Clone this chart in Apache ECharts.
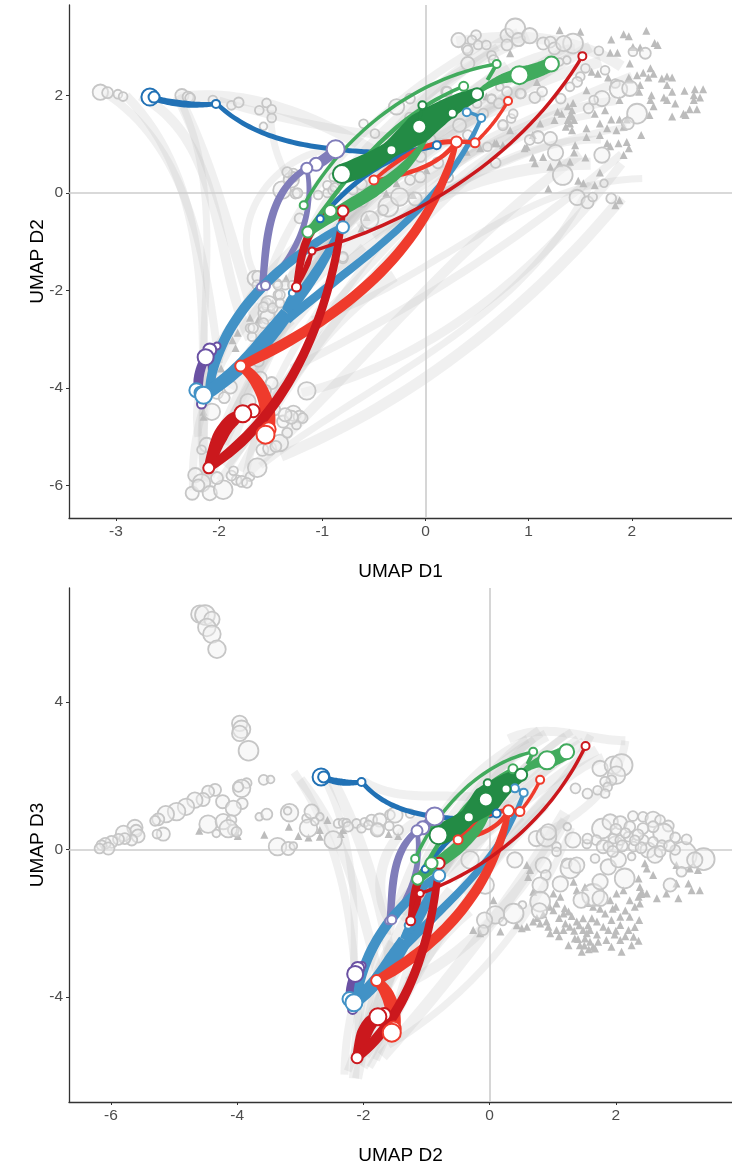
<!DOCTYPE html>
<html><head><meta charset="utf-8">
<style>html,body{margin:0;padding:0;background:#fff}#c{width:732px;height:1165px}</style>
<script src="https://cdn.jsdelivr.net/npm/echarts@6/dist/echarts.min.js"></script>
</head><body><div id="c"></div>
<script>
// tick labels
const ticksD1 = [-3,-2,-1,0,1,2];
const ticksD2top = [-6,-4,-2,0,2];
const ticksD2bottom = [-6,-4,-2,0,2];
const ticksD3 = [-4,0,4];

// grey cells, upper panel [D1, D2, size]
const cellsD1D2 = [
[-3.15,2.07,14],[-3.08,2.06,10],[-2.98,2.03,8],[-2.93,1.98,8],[-2.36,2.0,12],[-2.3,1.97,10],[-2.28,1.95,9],[-2.06,1.91,8],[-1.88,1.8,8],[-1.81,1.86,9],[-1.61,1.7,8],[-1.54,1.85,8],[-1.49,1.72,8],[-1.49,1.54,8],[-1.57,1.37,7],
[-2.26,-6.16,12],[-2.23,-5.79,13],[-2.17,-5.95,16],[-2.09,-6.16,13],[-1.96,-6.09,17],[-2.02,-5.85,11],[-2.12,-5.17,13],[-2.17,-5.27,8],[-1.83,-5.89,9],[-1.78,-5.92,10],[-1.70,-5.82,8],[-1.63,-5.64,17],[-1.58,-5.27,11],[-1.51,-5.24,12],[-1.41,-5.13,15],[-1.34,-4.92,9],[-1.38,-4.69,11],[-1.28,-4.52,14],[-1.22,-4.59,11],[-1.25,-4.76,8],[-1.19,-4.62,9],[-1.15,-4.06,16],[-1.46,-4.45,10],[-1.72,-4.28,14],[-2.07,-4.49,15],[-1.6,-3.8,12],[-1.49,-3.9,11],[-1.89,-3.98,12],[-1.54,-2.46,15],[-1.44,-1.85,8],[-1.43,-2.09,8],[-1.54,-2.26,9],[-1.7,-2.77,8],[-1.68,-2.95,8],
[-2.2,-6.0,11],[-1.88,-5.8,9],[-1.73,-5.95,9],[-1.86,-5.7,8],[-1.45,-5.2,10],[-1.3,-4.6,12],[-1.36,-4.55,12],[-2.02,-4.1,11],[-1.95,-4.2,10],[-1.55,-4.05,10],[-1.62,-3.45,10],
[0.32,3.14,13],[0.40,2.97,9],[0.49,3.24,9],[0.45,3.14,8],[0.51,3.04,8],[0.59,3.04,8],[0.41,2.93,9],[0.79,3.24,12],[0.87,3.38,18],[0.79,3.04,10],[0.90,3.15,12],[1.01,3.23,14],[1.14,3.07,11],[1.21,3.1,10],[1.25,2.97,11],[1.43,3.07,18],[1.34,3.07,14],[0.64,2.83,8],[0.41,2.66,12],[0.66,2.73,9],[1.68,2.92,8],[1.74,2.52,8],[2.01,2.9,8],[2.13,2.87,10],[1.84,2.25,8],[1.55,2.56,8],[1.5,2.39,8],[1.87,2.13,16],[1.98,2.15,14],[1.71,1.94,14],[1.63,1.91,8],[1.58,1.74,9],[2.05,1.63,18],[1.96,1.43,11],[1.71,.78,14],[1.26,.83,14],[1.33,.37,18],[1.47,-.09,14],[1.57,-.19,11],[1.62,-.08,8],[1.8,-.11,9],[1.73,.2,7],[1.21,1.12,12],[1.09,1.15,11],[1.01,1.09,9],[1.06,1.96,10],[1.13,2.08,9],[.93,2.04,8],[.83,1.53,8],[.75,1.41,8],[.64,1.94,8],[.72,2.18,7],[1.47,2.28,9],[1.4,2.18,8],[1.31,1.94,9],[1.37,2.73,7],[1.3,2.69,7],
[-.49,1.22,8],[-1.39,.06,16],[-1.3,.27,14],[-1.26,-.01,9],[-1.28,.4,9],[-1.04,-.04,8],[-.86,.13,8],[-.89,.33,8],[-.36,-.28,18],[-.25,-.08,16],[-.54,-.55,16],[-.41,-.35,9],[-.15,.27,9],[-.7,.06,8],[-.28,1.77,14],[.2,2.08,9],[.11,1.84,8],[.5,1.84,8],[.33,1.39,12],[.64,1.93,8],[.92,2.04,9],[.85,1.63,8],[.75,1.39,9],[.41,1.19,9],[-1.65,-1.75,14],[-1.36,-1.89,8],[-1.41,-2.09,9],[-1.52,-2.27,14],[-.8,-1.34,9],[-1.22,-.52,9],[-.05,.75,10],[.22,.32,9],[-.1,-.12,12],[-.62,.18,10],[.05,1.1,9],[-.48,.55,8],[-.62,-.15,12],[.12,.62,10],[.6,.95,8],[.68,.62,9],[-.15,1.55,9],[-.6,1.42,8],
[-.15,1.94,9],[.21,2.08,9],[.37,1.84,9],[.56,1.63,9],[.71,1.84,9],[.79,2.08,9],[-.63,.54,9],[-.05,.33,10],
[-1.53,-2.54,13],[-1.57,-2.34,9],[-1.43,-1.89,8],[-1.29,-1.89,8],[-1.48,-2.36,9],[-1.41,-2.26,8],[-1.62,-1.72,11],[-1.63,-1.89,9],[-1.67,-2.77,9],[-1.57,-2.67,9],[-1.28,.33,9],[-1.34,.43,9],[-1.24,0,9],[-.95,0,8],[-.95,.16,8],[-.9,.06,8],[-.88,.12,8],[-.8,-1.31,9]
];
const markersD1D2 = [
[1.30,3.34],[1.50,3.31],[1.80,3.15],[1.92,3.26],[1.97,3.22],[2.14,3.33],[2.22,3.08],[2.25,3.04],[1.79,2.88],[1.86,2.88],[2.01,3.0],[2.08,2.99],[1.98,2.66],[2.18,2.56],[2.11,2.47],[2.05,2.42],[2.21,2.45],[2.29,2.35],[2.34,2.39],[2.39,2.37],[2.16,2.37],[1.97,2.37],[1.67,2.45],[1.61,2.49],[1.77,2.37],[2.34,2.22],[2.39,2.08],[2.51,2.10],[2.61,2.13],[2.69,2.13],[2.6,2.01],[2.66,1.96],[2.6,1.91],[2.19,2.01],[2.18,1.91],[2.31,1.96],[2.42,1.84],[2.21,1.78],[2.34,1.91],[2.56,1.72],[2.63,1.72],[2.5,1.63],[2.52,1.6],[2.39,1.57],[2.17,1.6],[1.88,1.91],[2.07,2.08],[2.08,2.22],[1.98,2.33],[1.56,2.11],[1.64,1.63],[1.74,1.7],[1.88,1.51],[1.8,1.51],[1.95,1.51],[1.69,1.43],[1.76,1.33],[1.92,1.36],[1.85,1.29],[2.09,1.19],[1.56,1.15],[1.69,1.19],[1.76,1.02],[1.79,.96],[1.95,1.05],[1.87,1.02],[1.97,.92],[1.92,.78],[1.45,.98],[1.44,.83],[1.55,.73],[1.14,.74],[1.04,.73],[1.06,.61],[1.3,.61],[1.4,.64],[1.21,.54],[1.69,.42],[1.48,.25],[1.53,.2],[1.64,.16],[1.19,.09],[1.84,-.25],[1.88,-.15],
[1.40,1.57],[1.42,1.70],[1.38,1.5],[1.4,1.43],[1.56,1.33],[1.42,1.29],[1.32,1.63],[1.28,1.67],[1.25,1.5],[1.11,1.43],[.98,.95],[.82,1.29],[.67,1.02],[1.43,1.85],[1.38,1.78],[1.41,1.62],[1.44,1.5],[1.36,1.36],
[.82,2.87],[1.08,2.28],[.59,1.98],[.96,.92],[1.04,1.19],[.69,1.02],[.53,.92],[.27,1.02],[.42,1.02],[.75,.98],[.4,.85],[.01,.47],[-.12,-.04],[-.28,.2],[-.38,-.01],[-.62,-.73],[-.57,-.49],[-1.35,-1.75],
[-1.7,-2.56],[-1.82,-2.87],[-1.87,-3.02],[-1.84,-3.18],[-2.15,-4.49],[-2.15,-4.59],[-1.48,-2.26],[-1.55,-2.2],[-1.62,-2.6],[-1.98,-3.6]
];

// grey cells, lower panel [D2, D3, size]
const cellsD2D3 = [
[-4.59,6.38,16],[-4.51,6.36,18],[-4.4,6.24,14],[-4.48,6.02,16],[-4.4,5.84,16],[-4.32,5.43,16],[-3.96,3.42,14],[-3.93,3.26,16],[-3.96,3.15,14],[-3.82,2.68,18],[-3.85,1.8,9],[-3.93,1.66,16],[-3.98,1.7,9],[-3.58,1.89,9],[-3.47,1.9,7],
[-4.35,1.62,11],[-4.46,1.57,11],[-4.54,1.36,12],[-4.67,1.34,14],[-4.81,1.16,15],[-4.96,1.03,16],[-5.13,.96,15],[-5.25,.82,11],[-5.3,.78,9],[-5.17,.42,12],[-5.27,.42,8],[-5.62,.6,14],[-5.6,.51,11],[-5.57,.37,12],[-5.67,.26,10],[-5.8,.44,14],[-5.78,.3,10],[-5.88,.28,10],[-5.99,.21,11],[-6.09,.17,10],[-6.15,.12,9],[-6.04,.03,11],[-6.18,.03,9],
[-4.23,1.3,12],[-3.92,1.25,10],[-4.06,1.12,14],[-4.46,.69,16],[-4.22,.76,14],[-4.09,.8,9],[-4.06,.53,10],[-4.14,.57,16],[-4.33,.44,7],[-4.01,.48,9],[-3.65,.89,7],[-3.53,.96,10],[-3.17,1.0,16],[-3.2,1.05,7],[-2.9,.85,8],[-2.82,1.03,13],[-2.69,.89,7],[-2.87,.58,16],[-2.77,.76,7],[-2.48,.26,16],[-3.36,.08,16],[-3.19,.03,12],[-3.11,.1,7],
[-2.4,.71,8],[-2.32,.73,8],[-2.27,.73,7],[-2.11,.71,8],[-2.03,.58,8],[-1.98,.74,8],[-1.87,.8,10],[-1.92,.67,8],[-1.74,.8,12],[-1.77,.55,11],[-1.58,.94,9],[-1.5,.94,14],[-1.59,.64,8],[-1.45,.53,9],[-1.26,.98,8],[-2.24,.62,9],[-1.78,.53,12],
[-.31,-.28,16],[-.07,-.96,16],[.40,-.28,14],[.85,-.42,14],[.89,-.69,9],[.8,-.96,14],[1.12,-.93,14],[.8,-1.41,18],[.79,-1.66,14],[.52,-1.5,7],[.38,-1.73,18],[.09,-1.77,16],[-.08,-1.91,14],[-.1,-2.18,9],[.21,-1.95,7],
[.74,.3,14],[.9,.35,18],[.93,.48,14],[1.23,.62,7],[1.32,.26,14],[1.06,.08,8],[1.06,-.06,8],[1.22,-.37,9],[1.28,-.51,18],[1.38,-.42,14],[1.67,-.24,8],[1.88,-.47,14],[2.04,-.27,14],[1.64,-1.23,20],[2.14,-.78,18],[1.75,-.87,14],[1.75,-1.32,14],[1.45,-1.37,14],[1.54,.15,8],[1.78,.57,18],[1.91,.75,14],[2.07,.73,12],[2.27,.91,9],[2.43,.89,9],[2.59,.82,14],[2.7,.8,9],[2.83,.64,10],[2.75,.44,18],[2.94,.33,9],[3.07,-.15,24],[3.39,-.26,20],[3.25,-.28,14],[3.04,-.6,9],[2.86,-.96,12],[3.12,.28,9],[1.69,.26,9],[1.8,.08,12],[1.99,.15,14],[1.96,.3,9],[2.07,.26,9],[2.2,.35,9],[2.28,.08,9],[2.51,-.01,14],[2.62,-.15,14],[2.44,.26,9],[2.59,.21,9],[2.73,.12,9],[2.94,-.01,9],[2.25,-.19,7],[1.88,.08,9],[2.59,.62,10],[2.43,.57,10],[2.22,.62,10],[2.0,.55,10],[2.35,.4,10],[2.85,.1,10],[1.95,-.05,10],[2.1,.1,10],[2.4,.05,10],[2.7,-.05,10],[2.3,.25,9],[2.15,.45,9],[1.55,.3,9],
[1.75,2.2,14],[1.96,2.29,16],[2.09,2.29,20],[2.01,2.02,16],[1.93,1.88,9],[1.83,1.84,9],[1.87,1.7,8],[1.71,1.61,8],[1.83,1.52,8],[1.55,1.52,9],[1.36,1.66,9]
];
const markersD2D3 = [
[-4.6,.51],[-3.99,.37],[-3.57,.4],[-3.18,.62],[-2.57,.8],[-2.69,.53],[-3.03,.37],[-2.87,.33],[-2.69,.35],[-2.32,.53],[-2.36,.42],[-1.6,.42],[-1.45,.37],
[-.26,-2.18],[-.15,-2.27],[.17,-2.22],[.06,-1.37],[.59,-.42],[.64,-.55],[.61,-.74],[1.33,-.87],[1.38,-1.1],[1.51,-1.01],[.69,-1.14],[1.12,-1.28],[1.01,-1.19],
[.43,-2.05],[.51,-2.13],[.59,-2.09],[.69,-1.95],[.8,-2.0],[.93,-2.09],[1.06,-2.18],[.96,-2.27],[1.17,-2.18],[1.27,-2.09],[1.17,-1.73],[1.01,-1.64],[1.06,-1.46],[1.19,-1.59],[1.25,-1.68],[1.38,-1.95],[1.48,-1.86],[1.62,-1.86],[1.59,-2.18],[1.7,-1.95],[1.83,-1.73],[2.07,-1.82],[1.93,-1.91],[2.22,-1.82],[2.37,-1.91],[2.07,-2.04],[2.2,-2.18],[1.88,-2.18],[1.8,-2.09],[2.28,-2.36],[2.36,-2.47],[2.07,-2.45],[1.93,-2.63],[2.09,-2.77],[2.25,-2.59],[1.64,-2.63],[1.48,-2.18],[1.35,-2.41],[1.25,-2.59],[1.43,-2.59],[1.46,-2.77],[1.54,-2.27],[1.59,-2.5],[1.51,-2.41],[1.67,-2.68],[1.64,-1.55],
[2.38,-1.01],[2.41,-1.14],[2.49,-1.19],[2.36,-1.28],[2.38,-1.46],[2.65,-1.32],[2.22,-1.37],[2.12,-1.1],[2.01,-1.19],[1.91,-1.37],[2.36,-.78],[2.46,-.37],[2.49,-.51],[2.59,-.69],[2.96,-.92],[3.15,-.92],[3.2,-1.1],[3.33,-1.1],[2.99,-1.32],[3.3,-.55],[3.17,-.51],[2.96,-.42],[2.8,-1.19],
[.85,-1.75],[.95,-1.55],[1.1,-1.85],[1.3,-1.8],[1.55,-1.45],[2.0,-1.55],[2.3,-1.55],[2.15,-1.65],[2.4,-1.2],[1.7,-2.3],[1.85,-2.45],[2.0,-2.2],
[1.1,-2.35],[1.2,-2.0],[1.34,-2.2],[1.42,-2.05],[1.56,-2.05],[1.75,-1.6],[1.95,-1.6],[1.5,-2.6],[1.57,-2.7],[1.4,-2.42],[1.72,-2.5],[2.15,-2.35],[2.3,-2.1],[1.98,-2.3],[.75,-1.85],[.9,-1.95]
];

// faint trajectories, upper panel
const fadedD1D2 = [
[[-3.1,2.05],[-2.6,1.0],[-2.2,-1],[-2.0,-3.5]],
[[-2.76,2],[-2.38,1.3],[-1.95,-1.2],[-1.7,-3]],
[[-2.4,2],[-2.2,.8],[-2.12,-1.5],[-2.15,-4.2]],
[[-2.4,2],[-2.1,.5],[-1.8,-1.5],[-1.55,-3.2]],
[[-2.9,2],[-2.5,.8],[-2.2,-1.5],[-2.15,-5.8]],
[[-2.0,1.9],[-1.5,1.6],[-.8,1.3],[.4,1.0]],
[[-2.4,1.95],[-1.6,1.85],[-.8,1.2],[-.3,.6]],
[[-1.5,1.7],[-1.45,.9],[-1.3,.2]],
[[-1.6,-2.3],[-1.1,0],[-.3,1.8],[.6,3.1]],
[[-1.3,-1.8],[-.8,.3],[0,2],[1,3.2]],
[[-1.4,-1.9],[-.6,-.2],[.3,1.5],[1.4,3.0]],
[[-1.0,-.9],[-.3,.6],[.6,1.8],[1.7,2.7]],
[[-1.2,-1.4],[-.4,-.1],[.7,1.2],[2.0,2.4]],
[[-1.5,-3],[-.9,-1],[0,.8],[1.2,2.5]],
[[-2.1,-5.8],[-1.6,-3.5],[-.9,-1],[.1,1.4]],
[[-2,-5.9],[-1.4,-4],[-.6,-1.5],[.5,.9]],
[[-1.8,-5.7],[-1.2,-3.6],[-.3,-1.2],[.9,1.2]],
[[-1.7,-5.7],[-.9,-4],[.1,-1.8],[1.5,.8]],
[[-1.6,-5.6],[-.7,-4.3],[.6,-2.4],[1.6,.2]],
[[-1.4,-5.4],[-.3,-4.2],[.9,-2.3],[1.9,-.1]],
[[-1.2,-4.1],[-.2,-3.3],[1,-1.5],[1.9,.6]],
[[-1.3,-3.6],[-.4,-2.6],[.8,-1],[1.9,.8]],
[[-1.9,-4],[-1.2,-2],[-.2,-.4],[1.6,.6]],
[[-1.1,-2.6],[0,-1.5],[1,-.3],[2.1,.3]],
[[-2.2,-5],[-2.1,-3.5],[-1.6,-2],[-1.1,-.8]],
[[-2.1,-6],[-2.1,-4],[-1.8,-2.5],[-1.2,-1]],
[[-1.55,-2],[-1.7,-.5],[-1.3,.6],[-.9,.9]],
[[.3,3.1],[.8,3.2],[1.5,3],[1.9,2.6]],
[[-.4,1],[.3,2.5],[.9,3.3]],
[[-.5,.6],[.2,2.2],[.7,3]],
[[-1.9,-5.2],[-1.5,-3.2],[-.8,-.8],[.2,1.6],[.8,2.6]],
[[-1.2,-2.9],[-.5,-1.4],[.5,.6],[1.6,1.6]],
[[-.9,-1.6],[-.1,-.4],[.8,.7],[1.7,1.1]],
[[-1.35,-2.6],[-.85,-.7],[.1,1.1],[1.15,2.0]],
[[-1.05,-1.5],[-.45,-.4],[.35,.7],[1.25,1.5]],
[[-.8,-.2],[-.15,1.05],[.65,2.35],[1.45,2.95]],
[[-.65,-.7],[0,.2],[.9,1.3],[1.85,1.9]],
[[-2.05,-5.4],[-1.75,-4.1],[-1.25,-2.6],[-.6,-1.1]],
[[-1.95,-5.6],[-1.55,-4.5],[-1.0,-3],[-.3,-1.7]],
[[-.5,-.9],[.2,.05],[1.1,.9],[1.95,1.35]],
[[-2.25,-6.1],[-2.2,-4.8],[-2.0,-3.6],[-1.6,-2.3]],
[[-2.15,-5.9],[-1.95,-4.8],[-1.7,-3.7],[-1.3,-2.6]],
[[-1.75,-5.9],[-1.6,-4.7],[-1.35,-3.5],[-1.0,-2.3]],
[[-.3,.3],[.4,1.4],[1.1,2.4],[1.6,3.0]]
];
// faint trajectories, lower panel
const fadedD2D3 = [
[[-3.1,2.1],[-2.6,.5],[-2.3,-1.2],[-2.1,-4],[-2.05,-5.7]],
[[-3.0,1.9],[-2.4,.2],[-2.0,-1.8],[-1.75,-3.5]],
[[-2.6,1.85],[-2.3,.4],[-2.15,-1.6],[-2.2,-4.4]],
[[-2.5,1.9],[-2.1,.4],[-1.75,-1.5],[-1.55,-3.2]],
[[-2.0,1.85],[-1.4,1.5],[-.7,1.45],[.3,1.2]],
[[-1.6,-2.3],[-1.1,0],[-.3,1.9],[.6,3.0]],
[[-1.3,-1.8],[-.8,.3],[0,2],[.9,3.1]],
[[-1.4,-1.9],[-.6,-.2],[.3,1.7],[1.2,3.1]],
[[-1.0,-.9],[-.3,.6],[.6,2],[1.4,3.0]],
[[-1.2,-1.4],[-.4,-.1],[.7,1.5],[1.7,2.7]],
[[-1.5,-3],[-.9,-1],[0,.8],[1.2,2.5]],
[[-2.1,-5.8],[-1.6,-3.5],[-.9,-1],[.1,1.4]],
[[-2,-5.9],[-1.4,-4],[-.6,-1.5],[.5,.9]],
[[-1.8,-5.7],[-1.2,-3.6],[-.3,-1.2],[.9,1.2]],
[[-1.7,-5.6],[-.9,-4],[.1,-1.8],[1.2,1.0]],
[[-1.6,-5.3],[-.7,-4.2],[.3,-2.4],[1.3,.6]],
[[-2.3,-6.1],[-2.2,-4.5],[-1.8,-2.5],[-1.2,-1]],
[[-2.1,-6.2],[-1.9,-4.5],[-1.6,-2.8],[-1.0,-1.2]],
[[-1.9,-5.9],[-1.6,-4.8],[-1.3,-3.2],[-.9,-1.4]],
[[-1.3,-3.6],[-.4,-2.6],[.4,-1.2],[1.2,.8]],
[[.3,3.0],[1.0,3.2],[1.8,3.0],[2.15,2.95]],
[[2.15,2.95],[1.95,2.0],[1.4,1.0],[.8,.4]],
[[-.4,1],[.3,2.5],[.8,3.2]],
[[-.5,.6],[.2,2.2],[.7,3]],
[[-1.9,-5.2],[-1.5,-3.2],[-.8,-.8],[.2,1.6],[.8,2.6]],
[[-1.55,-2],[-1.7,-.5],[-1.3,.6],[-.9,.9]],
[[-.9,-.6],[-.2,1.0],[.6,2.3],[1.3,3.2]],
[[-.6,-.8],[.1,.8],[.9,2.2],[1.5,2.9]],
[[-.4,-1.2],[.3,.2],[1.0,1.6],[1.8,2.5]],
[[-.2,-.6],[.5,.7],[1.2,2.0],[1.6,3.1]],
[[-2.05,-5.4],[-1.75,-4.1],[-1.25,-2.6],[-.6,-1.1]],
[[-1.95,-5.6],[-1.55,-4.5],[-1.0,-3],[-.3,-1.7]],
[[-2.25,-6.0],[-2.05,-5.0],[-1.85,-3.7],[-1.55,-2.5]],
[[-2.15,-6.2],[-2.1,-5.0],[-2.0,-3.7],[-1.75,-2.4]]
];
const fadedWidths = [8,10,7,11,9,8,12,7];

// highlighted trajectories [D1/D2, D2/D3, weight]; the two panels share them
const darkBlueSegments = [
[[-2.67,1.97,6],[-2.35,1.83,7],[-2.03,1.83,4.5]],
[[-2.02,1.83,4.5],[-1.57,1.23,5],[-1.09,.96,5],[-.87,.9,5.5]],
[[-.87,.9,5],[-.37,.84,5],[-.12,.88,5],[.11,.98,5]],
[[.11,.98,4.5],[-.37,.61,5],[-.63,.33,5],[-.86,-.2,5],[-1.02,-.53,4]]
];
const lightPurpleSegments = [
[[-.87,.9,11],[-1.06,.59,11],[-1.15,.51,8]],
[[-1.15,.51,6.5],[-1.41,-.08,7.5],[-1.53,-.9,8],[-1.58,-1.93,7]],
[[-1.55,-1.9,5],[-1.31,-1.23,6],[-1.17,-.7,6],[-1.14,.12,5],[-1.15,.51,4.5]]
];
const darkPurpleSegments = [
[[-2.13,-3.37,9],[-2.2,-3.85,10],[-2.17,-4.33,7]],
[[-2.1,-3.3,7],[-2.07,-3.7,8],[-2.1,-4.1,7]]
];
const lightBlueSegments = [
[[-2.1,-4.1,8],[-2.06,-3.84,9],[-2.01,-3.26,10],[-1.89,-2.75,10],[-1.57,-1.93,10],[-1.24,-1.31,9],[-.92,-.76,8],[-.8,-.68,6]],
[[-2.15,-4.15,12],[-2.09,-3.98,13],[-1.8,-3.63,14],[-1.54,-2.95,16],[-1.34,-2.46,14]],
[[-1.36,-2.4,7],[-1.32,-2.2,6],[-1.29,-2.05,4]],
[[-1.34,-2.46,11],[-1.18,-2.0,11],[-1.02,-1.5,10],[-.83,-.7,6]],
[[-1.34,-2.6,9],[-.98,-1.8,8.5],[-.63,-1.44,8],[-.05,-.55,7],[.21,.53,6],[.40,1.23,5],[.54,1.54,4]],
[[.54,1.54,3.5],[.47,1.62,3.5],[.4,1.66,3.5]]
];
const orangeSegments = [
[[-1.55,-4.96,16],[-1.53,-4.51,15],[-1.63,-3.9,13],[-1.79,-3.55,9]],
[[-1.79,-3.55,9],[-1.54,-3.22,11],[-1.02,-2.6,10.5],[-.37,-1.64,10.5],[-.05,-.55,9.5],[.17,.41,8],[.30,1.05,5]],
[[.3,1.05,4.5],[.39,1.05,4.5],[.48,1.03,4]],
[[.3,1.05,5],[.14,.72,4.5],[-.18,.41,4.5],[-.51,.25,3.5]],
[[-.51,.25,3.5],[-.25,.68,4.5],[-.02,.94,4.5],[.3,1.05,5]],
[[.48,1.03,3.5],[.65,1.42,3.5],[.8,1.89,3.5]]
];
const darkRedSegments = [
[[-1.77,-4.53,10],[-1.87,-4.66,14],[-1.99,-5.0,15],[-2.1,-5.64,10]],
[[-2.1,-5.64,9],[-1.79,-5.13,10.5],[-1.48,-4.39,10],[-1.19,-3.28,9],[-.99,-2.34,8.5],[-.86,-1.23,8],[-.8,-.37,6]],
[[-.8,-.37,8],[-1.05,-.62,8.5],[-1.2,-1.31,8],[-1.25,-1.93,7]],
[[-1.25,-1.93,3.5],[-1.14,-1.44,6],[-1.1,-1.19,3.5]],
[[-1.1,-1.19,3.5],[-.83,-1.0,3.5],[-.37,-.62,3.5],[.01,-.2,3.5],[.53,.47,3.5],[1.04,1.5,3.5],[1.52,2.81,3.5]]
];
const greenSegments = [
[[1.22,2.65,14],[1.05,2.5,15],[.91,2.42,17]],
[[.91,2.42,14],[.69,2.3,8],[.5,2.05,4]],
[[.69,2.65,4],[.65,2.5,4],[.6,2.32,4]],
[[.69,2.65,3.5],[.14,2.32,3.5],[-.34,1.7,3.5],[-.83,.82,3.5],[-1.18,-.25,3.5]],
[[-1.14,-.8,10],[-.83,-.35,12],[-.51,0,13],[-.18,.62,9],[.01,1.15,4]],
[[-1.14,-.8,5],[-.92,-.14,4.5],[-.66,.53,4.5],[-.28,1.35,4.5],[.37,2.19,3.5]]
];
const darkGreenSegments = [
[[-.81,.39,20],[-.63,.53,21],[-.34,.88,17],[-.07,1.35,30],[.26,1.76,20],[.5,2.03,13]],
[[-.03,1.8,3],[-.05,1.6,3.5],[-.06,1.4,3.5]]
];

// white nodes on the trajectories [D1/D2, D2/D3, size]
const darkBlueNodes = [[-2.67,1.97,17],[-2.63,1.97,11],[-2.03,1.83,8],[.11,.98,8],[-1.02,-.53,7]];
const lightPurpleNodes = [[-1.6,-1.93,7],[-1.55,-1.9,9],[-1.06,.59,13],[-1.15,.51,11],[-.87,.9,18]];
const darkPurpleNodes = [[-2.02,-3.14,7],[-2.09,-3.22,13],[-2.17,-4.33,9],[-2.13,-3.37,16]];
const lightBlueNodes = [[-2.22,-4.05,14],[-2.18,-4.1,12],[-2.15,-4.15,17],[-1.29,-2.05,7],[-.8,-.7,12],[.4,1.66,8],[.54,1.54,8]];
const orangeNodes = [[-1.52,-4.85,14],[-1.55,-4.96,18],[-1.79,-3.55,11],[.3,1.05,11],[.48,1.03,9],[-.5,.27,9],[.8,1.89,8]];
const darkRedNodes = [[-1.67,-4.47,13],[-1.77,-4.53,17],[-2.1,-5.64,11],[-1.25,-1.93,9],[-1.1,-1.19,7],[-.8,-.37,11],[1.52,2.81,8]];
const greenNodes = [[1.22,2.65,15],[.91,2.42,18],[.69,2.65,8],[.37,2.19,9],[-1.18,-.25,8],[-1.14,-.8,11],[-.92,-.37,12]];
const darkGreenNodes = [[-.81,.39,18],[-.33,.88,10],[-.06,1.36,14],[.26,1.64,9],[.5,2.03,12],[-.03,1.8,8]];

const groups = [
 {segs:darkBlueSegments,  nodes:darkBlueNodes,  color:'#2171b5'},
 {segs:lightPurpleSegments,nodes:lightPurpleNodes,color:'#807dba'},
 {segs:darkPurpleSegments,nodes:darkPurpleNodes,color:'#6a51a3'},
 {segs:lightBlueSegments, nodes:lightBlueNodes, color:'#4292c6'},
 {segs:orangeSegments,    nodes:orangeNodes,    color:'#ef3b2c'},
 {segs:darkRedSegments,   nodes:darkRedNodes,   color:'#cb181d'},
 {segs:greenSegments,     nodes:greenNodes,     color:'#41ab5d'},
 {segs:darkGreenSegments, nodes:darkGreenNodes, color:'#238b45'}
];

// low-degree least-squares Bezier through the read points, in pixel space
function bezierFit(P){
  const n=P.length; const T=[0];
  for(let i=1;i<n;i++) T.push(T[i-1]+Math.hypot(P[i][0]-P[i-1][0],P[i][1]-P[i-1][1]));
  const total=T[n-1]||1; const t=T.map(v=>v/total);
  const A=P[0], D=P[n-1];
  let ctrl;
  if(n===2) ctrl=[A,[(A[0]+D[0])/2,(A[1]+D[1])/2],[(A[0]+D[0])/2,(A[1]+D[1])/2],D];
  else if(n===3){
    const s=t[1], u=1-s, Q=[0,1].map(k=>(P[1][k]-u*u*A[k]-s*s*D[k])/(2*s*u));
    ctrl=[A,[A[0]+2/3*(Q[0]-A[0]),A[1]+2/3*(Q[1]-A[1])],[D[0]+2/3*(Q[0]-D[0]),D[1]+2/3*(Q[1]-D[1])],D];
  } else {
    let a11=0,a12=0,a22=0,bx1=0,bx2=0,by1=0,by2=0;
    for(let i=1;i<n-1;i++){
      const s=t[i],u=1-s,b1=3*u*u*s,b2=3*u*s*s;
      const rx=P[i][0]-u*u*u*A[0]-s*s*s*D[0], ry=P[i][1]-u*u*u*A[1]-s*s*s*D[1];
      a11+=b1*b1;a12+=b1*b2;a22+=b2*b2;bx1+=b1*rx;bx2+=b2*rx;by1+=b1*ry;by2+=b2*ry;
    }
    const det=a11*a22-a12*a12||1;
    ctrl=[A,[(bx1*a22-bx2*a12)/det,(by1*a22-by2*a12)/det],[(a11*bx2-a12*bx1)/det,(a11*by2-a12*by1)/det],D];
  }
  return {t, at(s){const u=1-s;return [0,1].map(k=>u*u*u*ctrl[0][k]+3*u*u*s*ctrl[1][k]+3*u*s*s*ctrl[2][k]+s*s*s*ctrl[3][k]);}};
}

function ribbon(points, color, ax, z, opacity, fixedWidth){
  return {
    type:'custom', coordinateSystem:'cartesian2d', xAxisIndex:ax, yAxisIndex:ax, z,
    data:points, encode:{x:0,y:1}, silent:true, clip:true, animation:false,
    renderItem(params, api){
      if(params.dataIndex!==0) return null;
      const P = points.map(p=>api.coord([p[0],p[1]]));
      const W = points.map(p=>fixedWidth||p[2]);
      const fit = bezierFit(P), L=[], R=[], steps=36;
      for(let i=0;i<=steps;i++){
        const s=i/steps, p=fit.at(s), a=fit.at(Math.max(s-.01,0)), b=fit.at(Math.min(s+.01,1));
        let dx=b[0]-a[0], dy=b[1]-a[1]; const n=Math.hypot(dx,dy)||1; dx/=n; dy/=n;
        let j=0; while(j<fit.t.length-2 && s>fit.t[j+1]) j++;
        const f=(s-fit.t[j])/((fit.t[j+1]-fit.t[j])||1), h=(W[j]+(W[j+1]-W[j])*f)/2;
        L.push([p[0]-dy*h,p[1]+dx*h]); R.unshift([p[0]+dy*h,p[1]-dx*h]);
      }
      return {type:'polygon', shape:{points:L.concat(R)}, style:{fill:color, opacity}};
    }
  };
}

function panel(ax, cells, markers, faded){
  const out=[];
  faded.forEach((path,i)=>out.push(ribbon(path,'#bcbcbc',ax,1,.22,fadedWidths[i%fadedWidths.length])));
  out.push({type:'scatter', xAxisIndex:ax, yAxisIndex:ax, data:markers, symbol:'triangle', symbolSize:8, z:3, silent:true, animation:false,
    itemStyle:{color:'#bcbcbc',opacity:1},
    markLine:{silent:true, symbol:'none', z:2, animation:false, label:{show:false},
      lineStyle:{color:'#cccccc',width:1.6,type:'solid'}, data:[{xAxis:0},{yAxis:0}]}});
  out.push({type:'scatter', xAxisIndex:ax, yAxisIndex:ax, data:cells, symbolSize:d=>d[2]*1.1, z:4, silent:true, animation:false,
    itemStyle:{color:'rgba(240,240,240,.45)',borderColor:'#c6c6c6',borderWidth:1.8,opacity:1}});
  groups.forEach((g,k)=>g.segs.forEach(s=>out.push(ribbon(s,g.color,ax,10+k,1))));
  groups.forEach((g,k)=>out.push({type:'scatter', xAxisIndex:ax, yAxisIndex:ax, data:g.nodes, symbolSize:d=>d[2], z:30+k, silent:true, animation:false,
    itemStyle:{color:'#fff',borderColor:g.color,borderWidth:2,opacity:1}}));
  return out;
}

function axisCfg(ax,name,min,max,ticks,gap){
  return {type:'value',gridIndex:ax,min,max,name,nameLocation:'middle',nameGap:gap,nameMoveOverlap:false,
    nameTextStyle:{color:'#000',fontSize:19,fontFamily:'Liberation Sans'},
    axisLine:{onZero:false,lineStyle:{color:'#333',width:1.3}},
    axisTick:{show:true,length:3,customValues:ticks,lineStyle:{color:'#333'}},
    axisLabel:{customValues:ticks,color:'#4d4d4d',fontSize:15.5,margin:6,fontFamily:'Liberation Sans'},
    splitLine:{show:false}};
}

const chart = echarts.init(document.getElementById('c'),null,{renderer:'canvas'});
chart.setOption({
  backgroundColor:'#fff', animation:false,
  grid:[{left:69,right:0,top:5,height:513,outerBoundsMode:'none'},{left:69,right:0,top:588,height:514,outerBoundsMode:'none'}],
  xAxis:[axisCfg(0,'UMAP D1',-3.454,2.97,ticksD1,44),axisCfg(1,'UMAP D2',-6.664,3.84,ticksD2bottom,44)],
  yAxis:[axisCfg(0,'UMAP D2',-6.67,3.86,ticksD2top,22),axisCfg(1,'UMAP D3',-6.84,7.09,ticksD3,22)],
  series:[...panel(0,cellsD1D2,markersD1D2,fadedD1D2),...panel(1,cellsD2D3,markersD2D3,fadedD2D3)]
});
</script></body></html>
